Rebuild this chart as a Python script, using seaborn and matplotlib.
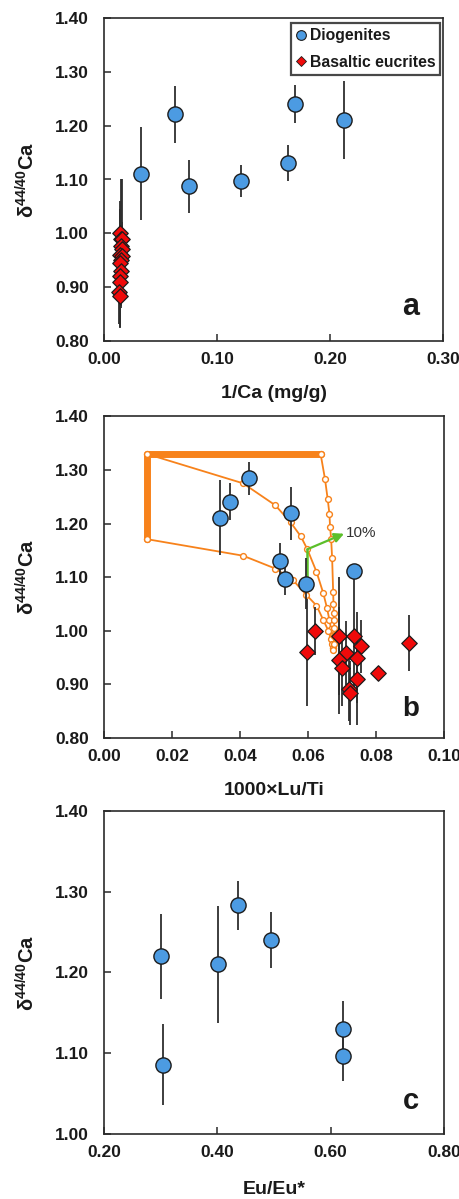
import numpy as np
import pandas as pd
import matplotlib
matplotlib.use('Agg')
import matplotlib.pyplot as plt
import seaborn as sns
from matplotlib.lines import Line2D

# ---------------- data ----------------
# Panel a: delta44/40Ca vs 1/Ca
dio_a_x = [0.0324, 0.0624, 0.0750, 0.1210, 0.1630, 0.1690, 0.2122]
dio_a_y = [1.111, 1.221, 1.087, 1.097, 1.131, 1.241, 1.211]
dio_a_e = [0.087, 0.053, 0.050, 0.030, 0.034, 0.035, 0.072]

euc_y = [1.000, 0.990, 0.990, 0.977, 0.971, 0.960, 0.958, 0.950, 0.945, 0.930, 0.921, 0.910, 0.891, 0.884]
euc_e = [0.045, 0.110, 0.110, 0.052, 0.050, 0.100, 0.060, 0.085, 0.100, 0.070, 0.010, 0.085, 0.060, 0.060]
euc_a_x = [0.0145, 0.0150, 0.0155, 0.0150, 0.0160, 0.0145, 0.0155, 0.0150, 0.0140, 0.0150, 0.0145, 0.0140, 0.0135, 0.0145]

# Panel b: delta44/40Ca vs 1000xLu/Ti
dio_b_x = [0.0341, 0.0370, 0.0426, 0.0550, 0.0518, 0.0531, 0.0594, 0.0735]
dio_b_y = [1.211, 1.241, 1.284, 1.219, 1.130, 1.097, 1.088, 1.111]
dio_b_e = [0.070, 0.034, 0.031, 0.050, 0.033, 0.030, 0.048, 0.000]
euc_b_x = [0.0620, 0.0692, 0.0735, 0.0898, 0.0757, 0.0596, 0.0712, 0.0745, 0.0692, 0.0699, 0.0807, 0.0743, 0.0721, 0.0724]

# model curves (panel b)
top_x = [0.0125, 0.0637]
top_y = [1.330, 1.330]
left_x = [0.0125, 0.0125]
left_y = [1.330, 1.171]
mid_x = [0.0125, 0.0409, 0.0504, 0.0549, 0.0579, 0.0598, 0.0625, 0.0645, 0.0656, 0.0663, 0.0668, 0.0671, 0.0673, 0.0674]
mid_y = [1.330, 1.275, 1.234, 1.202, 1.176, 1.152, 1.110, 1.070, 1.042, 1.020, 1.003, 0.990, 0.978, 0.968]
low_x = [0.0125, 0.0409, 0.0504, 0.0555, 0.0595, 0.0625, 0.0645, 0.0660, 0.0668, 0.0672, 0.0674]
low_y = [1.171, 1.140, 1.116, 1.095, 1.067, 1.047, 1.020, 1.000, 0.985, 0.975, 0.968]
right_x = [0.0637, 0.0650, 0.0658, 0.0663, 0.0665, 0.0668, 0.0671, 0.0674, 0.0675, 0.0676, 0.0677, 0.0677, 0.0677, 0.0676, 0.0674]
right_y = [1.330, 1.283, 1.245, 1.218, 1.193, 1.172, 1.135, 1.072, 1.050, 1.033, 1.020, 1.005, 0.990, 0.975, 0.965]
green_start = (0.0598, 1.152)
green_end = (0.0706, 1.181)
green_drop_y = 1.090

# Panel c: delta44/40Ca vs Eu/Eu*
dio_c_x = [0.301, 0.304, 0.402, 0.437, 0.495, 0.621, 0.621]
dio_c_y = [1.220, 1.086, 1.210, 1.283, 1.240, 1.130, 1.096]
dio_c_e = [0.053, 0.050, 0.072, 0.030, 0.035, 0.035, 0.030]

# ---------------- style ----------------
sns.set_style('ticks')
plt.rcParams['font.family'] = ['Liberation Sans', 'DejaVu Sans']
plt.rcParams['font.weight'] = 'bold'
plt.rcParams['axes.labelweight'] = 'bold'
plt.rcParams['mathtext.fontset'] = 'custom'
plt.rcParams['mathtext.bf'] = 'Liberation Sans:bold'
plt.rcParams['mathtext.rm'] = 'Liberation Sans:bold'
plt.rcParams['mathtext.default'] = 'bf'

BLUE = '#4C9BE2'
RED = '#F00A0A'
EDGE = '#1c1c1c'
ERR = '#2e2e2e'
ORANGE = '#F7821B'
GREEN = '#5CBF2A'

fig = plt.figure(figsize=(4.6, 11.99), dpi=100)
W, H = 460, 1199

def add_ax(left, top, right, bottom):
    return fig.add_axes([left / W, 1 - bottom / H, (right - left) / W, (bottom - top) / H])

ax_a = add_ax(104, 18.3, 443.5, 340.7)
ax_b = add_ax(104, 416.3, 444, 738)
ax_c = add_ax(104, 811, 444, 1134)

ylab = 'δ$^{44/40}$Ca'

def style(ax, xlim, xticks, ylim, yticks, xlabel, xpad=14):
    ax.set_xlim(*xlim)
    ax.set_ylim(*ylim)
    ax.set_xticks(xticks)
    ax.set_yticks(yticks)
    ax.set_xticklabels([f'{t:.2f}' for t in xticks])
    ax.set_yticklabels([f'{t:.2f}' for t in yticks])
    for s in ax.spines.values():
        s.set_color('#2a2a2a')
        s.set_linewidth(1.2)
        s.set_visible(True)
    ax.tick_params(direction='in', length=5, width=1.1, colors='#2a2a2a',
                   labelsize=12.5, labelcolor='#1a1a1a', top=False, right=False)
    ax.tick_params(axis='y', pad=11)
    ax.tick_params(axis='x', pad=8)
    ax.set_xlabel(xlabel, fontsize=14, labelpad=xpad, color='#1a1a1a')
    ax.set_ylabel(ylab, fontsize=14.5, labelpad=12, color='#1a1a1a')

def errs(ax, x, y, e):
    ax.errorbar(x, y, yerr=e, fmt='none', ecolor=ERR, elinewidth=1.3, capsize=0, zorder=2)

def circles(ax, x, y):
    sns.scatterplot(x=x, y=y, ax=ax, marker='o', s=120, color=BLUE,
                    edgecolor=EDGE, linewidth=1.0, zorder=4, legend=False)

def diamonds(ax, x, y):
    sns.scatterplot(x=x, y=y, ax=ax, marker='D', s=62, color=RED,
                    edgecolor=EDGE, linewidth=0.9, zorder=4, legend=False)

# ---------- panel a ----------
errs(ax_a, euc_a_x, euc_y, euc_e)
errs(ax_a, dio_a_x, dio_a_y, dio_a_e)
diamonds(ax_a, euc_a_x, euc_y)
circles(ax_a, dio_a_x, dio_a_y)
style(ax_a, (0, 0.30), [0.0, 0.1, 0.2, 0.3], (0.80, 1.40), np.round(np.arange(0.8, 1.401, 0.1), 2), '1/Ca (mg/g)', xpad=13)
ax_a.text(0.903, 0.105, 'a', transform=ax_a.transAxes, fontsize=22, fontweight='bold',
          ha='center', va='center', color='#1a1a1a')
handles = [
    Line2D([], [], marker='o', linestyle='none', markersize=7, markerfacecolor=BLUE,
           markeredgecolor=EDGE, markeredgewidth=0.8),
    Line2D([], [], marker='D', linestyle='none', markersize=5.2, markerfacecolor=RED,
           markeredgecolor=EDGE, markeredgewidth=0.6),
]
leg = ax_a.legend(handles, ['Diogenites', 'Basaltic eucrites'], loc='upper right',
                  bbox_to_anchor=(0.991, 0.984), fontsize=11.3, frameon=True, fancybox=False,
                  handlelength=0.7, handletextpad=0.2, labelspacing=0.72, borderpad=0.32,
                  borderaxespad=0.0)
leg.get_frame().set_edgecolor('#1a1a1a')
leg.get_frame().set_linewidth(1.6)
for t in leg.get_texts():
    t.set_fontweight('bold')
    t.set_color('#1a1a1a')

# ---------- panel b ----------
thin = dict(color=ORANGE, lw=1.3, marker='o', ms=4.2, mfc='white', mec=ORANGE, mew=1.0, zorder=1)
ax_b.plot(top_x, top_y, color=ORANGE, lw=5, solid_capstyle='butt', zorder=1)
ax_b.plot(left_x, left_y, color=ORANGE, lw=5, solid_capstyle='butt', zorder=1)
ax_b.plot(mid_x, mid_y, **thin)
ax_b.plot(low_x, low_y, **thin)
ax_b.plot(right_x, right_y, **thin)
ax_b.plot([top_x[0], top_x[1], left_x[1]], [top_y[0], top_y[1], left_y[1]], linestyle='none',
          marker='o', ms=4.2, mfc='white', mec=ORANGE, mew=1.0, zorder=1.5)
ax_b.plot([green_start[0], green_start[0]], [green_start[1], green_drop_y], color=GREEN, lw=1.8, zorder=1.6)
ax_b.annotate('', xy=green_end, xytext=green_start,
              arrowprops=dict(arrowstyle='-|>', color=GREEN, lw=1.6, mutation_scale=14,
                              shrinkA=0, shrinkB=0), zorder=1.6)
ax_b.text(green_end[0] + 0.0005, green_end[1] + 0.002, '10%', fontsize=11, fontweight='normal',
          color='#333333', ha='left', va='center')
errs(ax_b, euc_b_x, euc_y, euc_e)
errs(ax_b, dio_b_x, dio_b_y, dio_b_e)
diamonds(ax_b, euc_b_x, euc_y)
circles(ax_b, dio_b_x, dio_b_y)
style(ax_b, (0, 0.10), [0.0, 0.02, 0.04, 0.06, 0.08, 0.10], (0.80, 1.40),
      np.round(np.arange(0.8, 1.401, 0.1), 2), '1000×Lu/Ti', xpad=13)
ax_b.text(0.903, 0.09, 'b', transform=ax_b.transAxes, fontsize=20, fontweight='bold',
          ha='center', va='center', color='#1a1a1a')

# ---------- panel c ----------
errs(ax_c, dio_c_x, dio_c_y, dio_c_e)
circles(ax_c, dio_c_x, dio_c_y)
style(ax_c, (0.20, 0.80), [0.2, 0.4, 0.6, 0.8], (1.00, 1.40),
      np.round(np.arange(1.0, 1.401, 0.1), 2), 'Eu/Eu*', xpad=15)
ax_c.text(0.903, 0.103, 'c', transform=ax_c.transAxes, fontsize=21, fontweight='bold',
          ha='center', va='center', color='#1a1a1a')

fig.savefig('out.png', dpi=100, facecolor='white')
